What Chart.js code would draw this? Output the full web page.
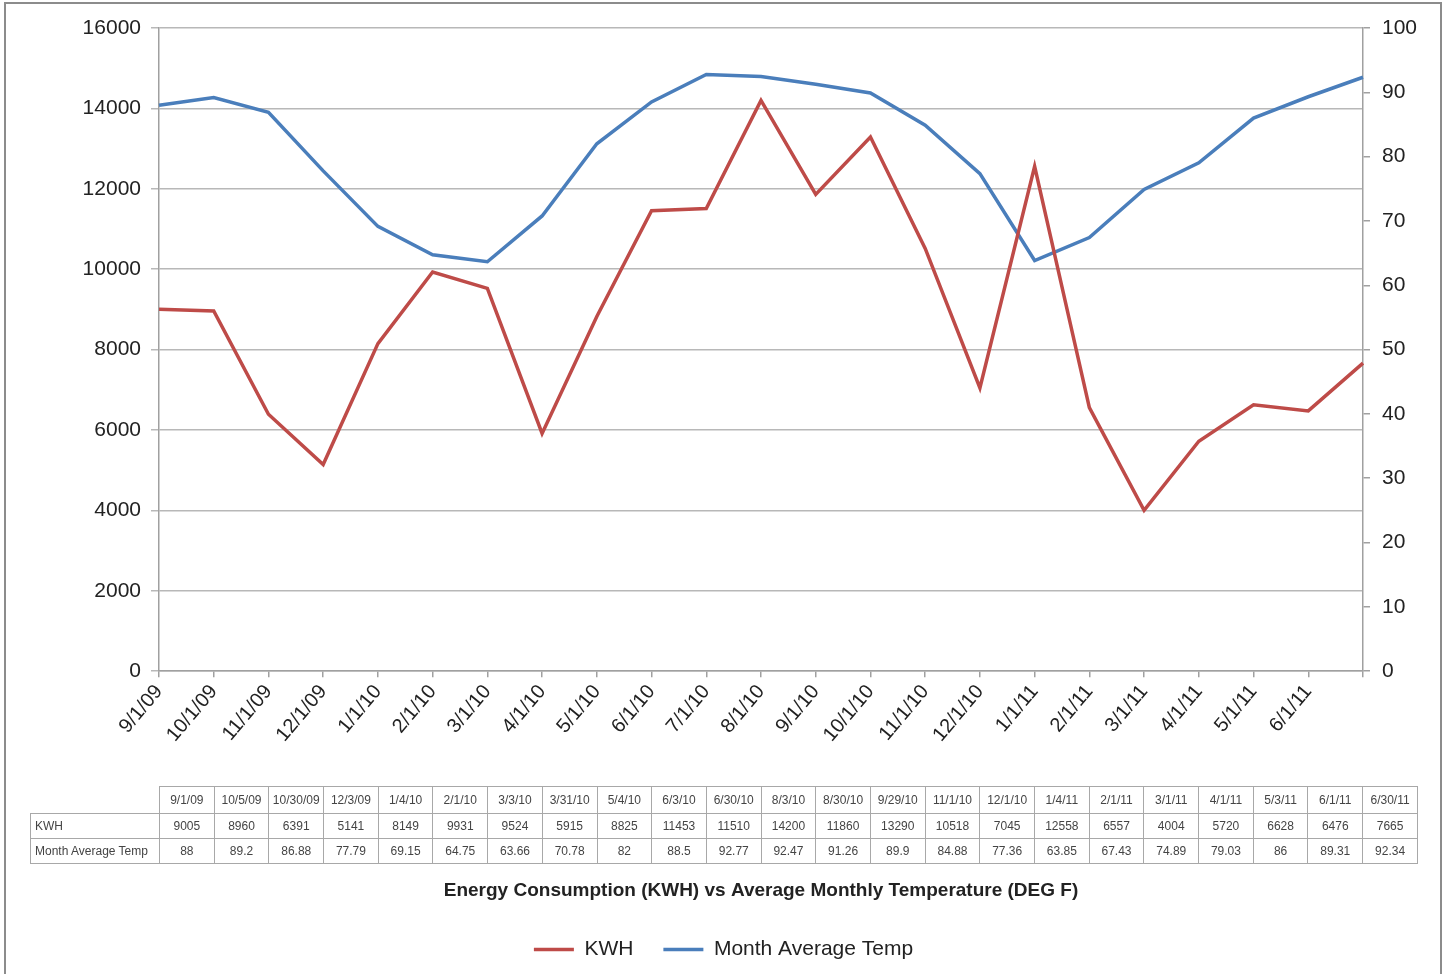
<!DOCTYPE html>
<html>
<head>
<meta charset="utf-8">
<title>Energy Consumption vs Temperature</title>
<script src="https://cdn.jsdelivr.net/npm/chart.js@4.4.1/dist/chart.umd.min.js"></script>
<style>
  html, body { margin:0; padding:0; background:#fff; }
  #wrap { position:relative; width:1447px; height:974px; overflow:hidden; }
  #frame { position:absolute; left:4px; top:2px; width:1434px; height:1000px; border:2px solid #8c8c8c; }
  #chart { position:absolute; left:0; top:0; }
  #dataTable { position:absolute; left:30px; top:786px; border-collapse:collapse; table-layout:fixed; width:1388px;
    font-family:'Liberation Sans', Arial, sans-serif; font-size:12px; color:#444; }
  #dataTable td { border:1px solid #a8a8a8; height:24px; padding:0; text-align:center; white-space:nowrap; }
  #dataTable td.rowhead { text-align:left; padding-left:4px; }
  #dataTable td.blank { border-top:none; border-left:none; }
</style>
</head>
<body>
<div id="wrap">
  <div id="frame"></div>
  <canvas id="chart" width="1447" height="974"></canvas>
  <table id="dataTable"></table>
</div>
<script>
// 軸の目盛ラベル（月初）
var monthTicks = ['9/1/09','10/1/09','11/1/09','12/1/09','1/1/10','2/1/10','3/1/10','4/1/10','5/1/10','6/1/10','7/1/10','8/1/10',
  '9/1/10','10/1/10','11/1/10','12/1/10','1/1/11','2/1/11','3/1/11','4/1/11','5/1/11','6/1/11'];
// 検針日
var readDates = ['9/1/09','10/5/09','10/30/09','12/3/09','1/4/10','2/1/10','3/3/10','3/31/10','5/4/10','6/3/10','6/30/10','8/3/10',
  '8/30/10','9/29/10','11/1/10','12/1/10','1/4/11','2/1/11','3/1/11','4/1/11','5/3/11','6/1/11','6/30/11'];
var kwh = [9005,8960,6391,5141,8149,9931,9524,5915,8825,11453,11510,14200,11860,13290,10518,7045,12558,6557,4004,5720,6628,6476,7665];
var avgTemp = [88,89.2,86.88,77.79,69.15,64.75,63.66,70.78,82,88.5,92.77,92.47,91.26,89.9,84.88,77.36,63.85,67.43,74.89,79.03,86,89.31,92.34];

var RED = '#BE4B48';
var BLUE = '#4A7EBB';
var AXIS = '#a0a0a0';
var FONT = "'Liberation Sans', Arial, Helvetica, sans-serif";

// データ表
function buildTable() {
  var html = '<colgroup><col style="width:129px">';
  readDates.forEach(function() { html += '<col>'; });
  html += '</colgroup>';
  html += '<tr><td class="blank" style="height:26px"></td>' + readDates.map(function(d) { return '<td>' + d + '</td>'; }).join('') + '</tr>';
  html += '<tr><td class="rowhead">KWH</td>' + kwh.map(function(v) { return '<td>' + v + '</td>'; }).join('') + '</tr>';
  html += '<tr><td class="rowhead">Month Average Temp</td>' + avgTemp.map(function(v) { return '<td>' + v + '</td>'; }).join('') + '</tr>';
  document.getElementById('dataTable').innerHTML = html;
}
buildTable();

Chart.defaults.font.family = FONT;
Chart.defaults.color = '#222';

var ctx = document.getElementById('chart').getContext('2d');
new Chart(ctx, {
  type: 'line',
  data: {
    labels: readDates,
    datasets: [
      {
        label: 'KWH',
        data: kwh,
        borderColor: RED,
        backgroundColor: RED,
        borderWidth: 3.5,
        pointRadius: 0,
        tension: 0,
        yAxisID: 'y',
      },
      {
        label: 'Month Average Temp',
        data: avgTemp,
        borderColor: BLUE,
        backgroundColor: BLUE,
        borderWidth: 3.5,
        pointRadius: 0,
        tension: 0,
        yAxisID: 'y1',
      },
    ],
  },
  options: {
    responsive: false,
    animation: false,
    layout: { padding: { top: 28, left: 0, right: 0, bottom: 4 } },
    plugins: {
      tooltip: { enabled: false },
      title: {
        display: true,
        position: 'bottom',
        fullSize: false,
        weight: 500,
        text: 'Energy Consumption (KWH) vs Average Monthly Temperature (DEG F)',
        font: { size: 19, weight: 'bold' },
        color: '#222',
        padding: { top: 98, bottom: 7 },
      },
      legend: {
        position: 'bottom',
        labels: {
          usePointStyle: true,
          pointStyle: 'line',
          pointStyleWidth: 40,
          boxHeight: 20,
          font: { size: 21 },
          color: '#222',
          padding: 30,
        },
      },
    },
    scales: {
      x: {
        type: 'category',
        offset: false,
        grid: { display: true, drawOnChartArea: false, drawTicks: true, tickLength: 6, color: AXIS, lineWidth: 1.5 },
        border: { color: AXIS, width: 1.5 },
        ticks: {
          autoSkip: false,
          maxRotation: 50,
          minRotation: 50,
          padding: 3,
          font: { size: 20 },
          color: '#222',
          callback: function(v, i) { return monthTicks[i] || ''; },
        },
        afterFit: function(s) { s.height = 110; },
      },
      y: {
        position: 'left',
        min: 0,
        max: 16000,
        ticks: { stepSize: 2000, padding: 10, font: { size: 21 }, color: '#222',
          callback: function(v) { return String(v); } },
        grid: { color: '#b8b8b8', lineWidth: 1.5, tickLength: 8 },
        border: { color: AXIS, width: 1.5 },
        afterFit: function(s) { s.width = 159; },
      },
      y1: {
        position: 'right',
        min: 0,
        max: 100,
        ticks: { stepSize: 10, padding: 12, font: { size: 21 }, color: '#222',
          callback: function(v) { return String(v); } },
        grid: { drawOnChartArea: false, color: AXIS, lineWidth: 1.5, tickLength: 7 },
        border: { color: AXIS, width: 1.5 },
        afterFit: function(s) { s.width = 84; },
      },
    },
  },
});
</script>
</body>
</html>
